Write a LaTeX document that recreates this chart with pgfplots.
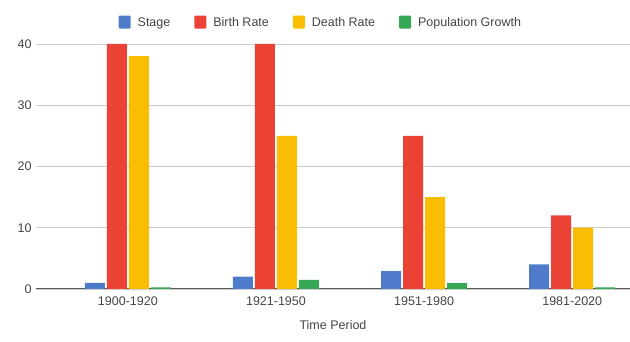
\documentclass[border=0pt]{standalone}
\usepackage{pgfplots}
\pgfplotsset{compat=1.18}
\usepackage{fontspec}
\setmainfont{Liberation Sans}
\definecolor{cStage}{HTML}{4E7CCB}
\definecolor{cBirth}{HTML}{EA4335}
\definecolor{cDeath}{HTML}{FBBC04}
\definecolor{cGrowth}{HTML}{34A853}
\definecolor{txt}{HTML}{444444}
\begin{document}
\begin{tikzpicture}[x=1pt,y=1pt]
\useasboundingbox (0,0) rectangle (630,342);
\begin{axis}[
  at={(36pt,53pt)}, anchor=south west,
  scale only axis, width=594pt, height=245pt,
  ybar=2pt, bar width=20pt,
  xmin=-0.62, xmax=3.39, ymin=0, ymax=40,
  xtick=data, xticklabels={1900-1920,1921-1950,1951-1980,1981-2020},
  ytick={0,10,20,30,40},
  axis line style={draw=none},
  axis x line*=bottom,
  major tick length=0pt,
  ymajorgrids, grid style={draw=black!20, line width=0.8pt},
  extra y ticks={0}, extra y tick labels={},
  extra y tick style={grid style={draw=black!65, line width=1pt}},
  tick label style={font=\fontsize{12.5}{14}\selectfont, text=txt},
  yticklabel style={xshift=-1pt},
  xticklabel style={yshift=-4pt},
  xlabel={Time Period},
  xlabel style={font=\fontsize{12.5}{14}\selectfont, text=txt, yshift=-8pt},
  /pgf/number format/assume math mode=true,
  legend style={at={(0.4795,1)}, anchor=south, yshift=12pt, draw=none, fill=none,
    legend columns=4, font=\fontsize{12.5}{14}\selectfont, text=txt,
    /tikz/every odd column/.append style={column sep=5pt},
    /tikz/every even column/.append style={column sep=22pt}},
  legend image code/.code={\fill[#1, rounded corners=1pt] (0pt,-6pt) rectangle (12pt,7pt);},
]
\addplot[fill=cStage, draw=none] coordinates {(0,1) (1,2) (2,2.9) (3,4)};
\addplot[fill=cBirth, draw=none] coordinates {(0,40) (1,40) (2,25) (3,12)};
\addplot[fill=cDeath, draw=none] coordinates {(0,38) (1,25) (2,15) (3,10)};
\addplot[fill=cGrowth, draw=none] coordinates {(0,0.25) (1,1.5) (2,0.95) (3,0.25)};
\legend{Stage, Birth Rate, Death Rate, Population Growth}
\end{axis}
\end{tikzpicture}
\end{document}
